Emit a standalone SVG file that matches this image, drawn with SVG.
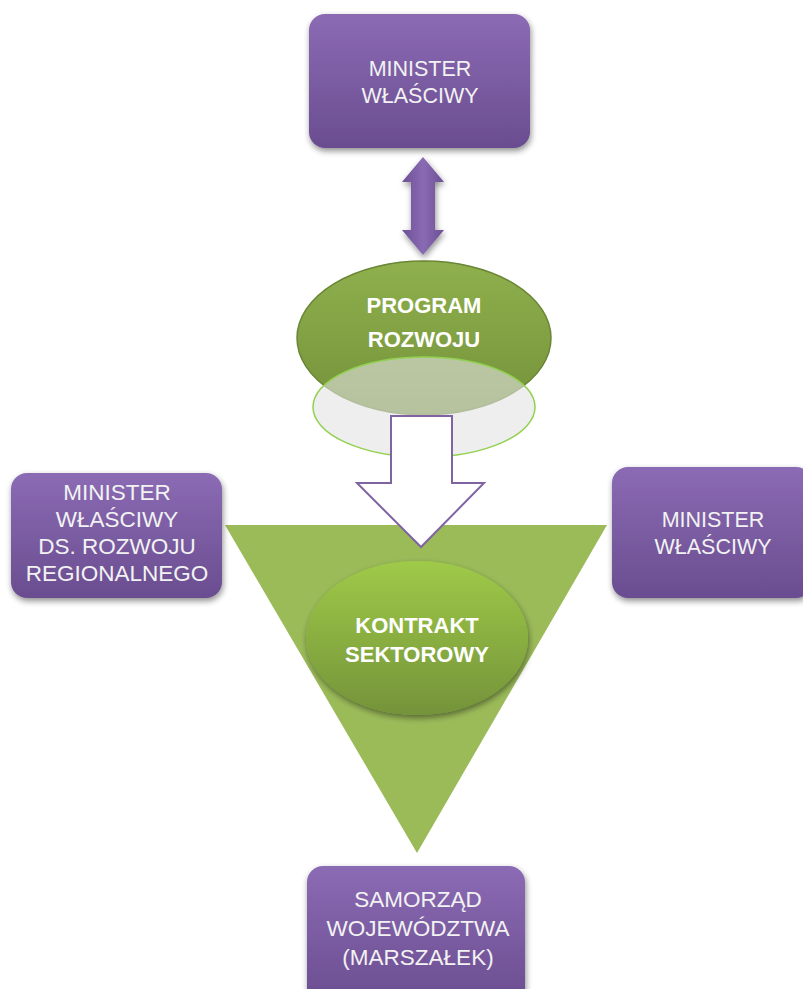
<svg xmlns="http://www.w3.org/2000/svg" width="803" height="989" viewBox="0 0 803 989">
<defs>
<linearGradient id="gPurple" x1="0" y1="0" x2="0" y2="1">
<stop offset="0" stop-color="#8b6bb4"/>
<stop offset="1" stop-color="#6a4d90"/>
</linearGradient>
<linearGradient id="gArrow" x1="0" y1="0" x2="1" y2="0">
<stop offset="0" stop-color="#6c4f95"/>
<stop offset="0.5" stop-color="#8a6bb3"/>
<stop offset="1" stop-color="#6c4f95"/>
</linearGradient>
<linearGradient id="gKontrakt" x1="0" y1="0" x2="0" y2="1">
<stop offset="0" stop-color="#9fca48"/>
<stop offset="1" stop-color="#74933a"/>
</linearGradient>
<linearGradient id="gProgram" x1="0" y1="0" x2="0" y2="1">
<stop offset="0" stop-color="#8fb04d"/>
<stop offset="1" stop-color="#74923a"/>
</linearGradient>
<filter id="shadow" x="-10%" y="-10%" width="125%" height="130%">
<feGaussianBlur in="SourceAlpha" stdDeviation="3"/>
<feOffset dx="1" dy="3" result="b"/>
<feComponentTransfer><feFuncA type="linear" slope="0.45"/></feComponentTransfer>
<feMerge><feMergeNode/><feMergeNode in="SourceGraphic"/></feMerge>
</filter>
</defs>
<style>
.box{fill:url(#gPurple);filter:url(#shadow);}
.t{font-family:"Liberation Sans",Arial,sans-serif;font-size:21.5px;fill:#f2f2f2;text-anchor:middle;}
.l{font-size:22.5px;}
.tb{font-family:"Liberation Sans",Arial,sans-serif;font-size:22px;font-weight:bold;fill:#ffffff;text-anchor:middle;}
</style>
<rect width="803" height="989" fill="#ffffff"/>

<g id="program-rozwoju">
<ellipse cx="424" cy="338" rx="127" ry="77" fill="url(#gProgram)" stroke="#6a8535" stroke-width="1.5"/>
<text class="tb" x="424" y="313">PROGRAM</text>
<text class="tb" x="424" y="347">ROZWOJU</text>
<ellipse cx="424" cy="407" rx="111" ry="50" fill="#e2e2e2" fill-opacity="0.6" stroke="#92d050" stroke-width="1.5"/>
</g>

<g id="triangle">
<polygon points="225,525 607,525 417,853" fill="#9bbb59"/>
</g>

<g id="connectors">
<path d="M423,157 L444,182 L435,182 L435,230 L444,230 L423,255 L402,230 L411,230 L411,182 L402,182 Z" fill="url(#gArrow)" filter="url(#shadow)"/>
<path d="M391,416 L452,416 L452,483 L484,483 L421,547 L357,483 L391,483 Z" fill="#ffffff" stroke="#8064a2" stroke-width="2" stroke-linejoin="miter"/>
</g>

<g id="kontrakt-sektorowy">
<ellipse cx="417" cy="638" rx="111" ry="77" fill="url(#gKontrakt)" filter="url(#shadow)"/>
<text class="tb" x="417" y="633">KONTRAKT</text>
<text class="tb" x="417" y="662">SEKTOROWY</text>
</g>

<g id="minister-top">
<rect class="box" x="309" y="14" width="221" height="134" rx="16"/>
<text class="t" x="420" y="76">MINISTER</text>
<text class="t" x="420" y="103">WŁAŚCIWY</text>
</g>

<g id="minister-left">
<rect class="box" x="11" y="473" width="211" height="125" rx="16"/>
<text class="t l" x="117" y="500">MINISTER</text>
<text class="t l" x="117" y="527">WŁAŚCIWY</text>
<text class="t l" x="117" y="554">DS. ROZWOJU</text>
<text class="t l" x="117" y="581">REGIONALNEGO</text>
</g>

<g id="minister-right">
<rect class="box" x="612" y="467" width="200" height="131" rx="16"/>
<text class="t" x="713" y="527">MINISTER</text>
<text class="t" x="713" y="554">WŁAŚCIWY</text>
</g>

<g id="samorzad">
<rect class="box" x="307" y="866" width="218" height="140" rx="16"/>
<text class="t l" x="418" y="907">SAMORZĄD</text>
<text class="t l" x="418" y="936">WOJEWÓDZTWA</text>
<text class="t l" x="418" y="965">(MARSZAŁEK)</text>
</g>
</svg>
